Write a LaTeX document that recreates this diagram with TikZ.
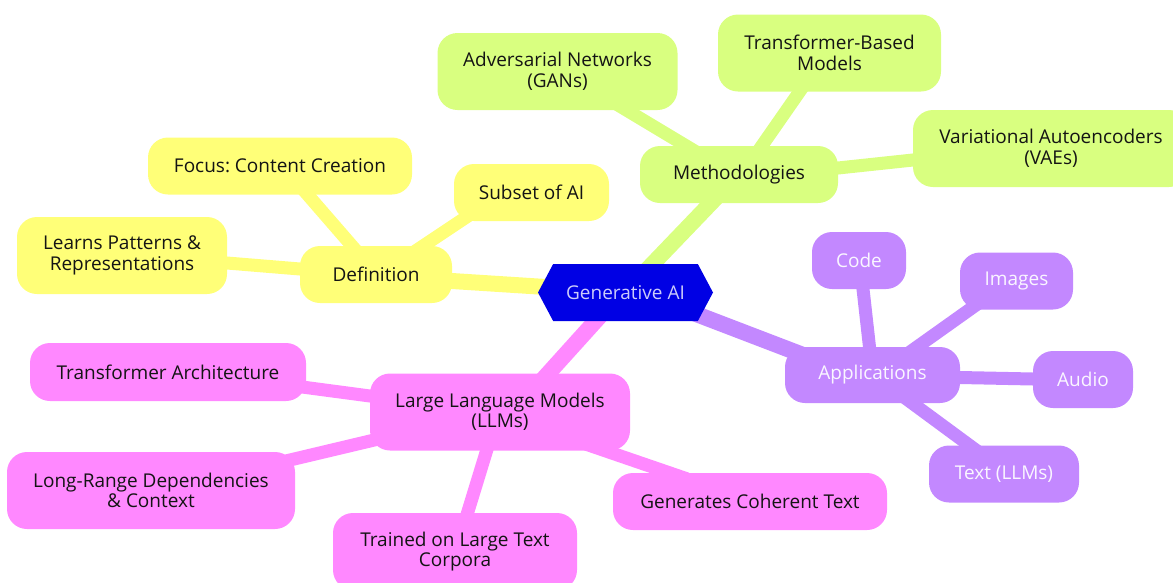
\documentclass[tikz,border=0pt]{standalone}
\usepackage{fontspec}
\setmainfont{Open Sans}
\usetikzlibrary{shapes.symbols,calc,backgrounds}
\definecolor{rootblue}{HTML}{0000E4}
\definecolor{defyel}{HTML}{FFFF78}
\definecolor{methgrn}{HTML}{D9FF80}
\definecolor{apppur}{HTML}{C388FF}
\definecolor{llmpink}{HTML}{FF88FF}
\frenchspacing

\begin{document}
\begin{tikzpicture}
[x=1pt,y=-1pt,
box/.style = {rounded corners=20pt, align=center, inner sep=0pt, minimum height=57pt, font=\fontsize{19}{20.5}\selectfont, text=black!92},
tall/.style = {minimum height=77pt},
yel/.style = {box, fill=defyel},
grn/.style = {box, fill=methgrn},
pur/.style = {box, fill=apppur, text=white!92!apppur},
pnk/.style = {box, fill=llmpink},
trunk/.style = {line width=16pt, shorten <=-25pt, shorten >=-25pt},
twig/.style = {line width=13pt, shorten <=-18pt, shorten >=-18pt},]

\useasboundingbox (0,0) rectangle (1173,582);

\node (genai) at (625.5,292.5)[signal, signal to=east and west, signal pointer angle=124, fill=rootblue, minimum width=175pt, minimum height=57pt, inner sep=0pt, font=\fontsize{19}{20.5}\selectfont, text=white!80!rootblue] {Generative AI};

% definition branch
\node (defn) at (376,274.5)[yel, minimum width=152pt] {Definition};
\node (focus) at (280,166)[yel, minimum width=264pt] {Focus: Content Creation};
\node (subset) at (531.5,192.5)[yel, minimum width=155pt] {Subset of AI};
\node (learns) at (122,255.5)[yel, tall, minimum width=210pt] {Learns Patterns \&\\Representations};

% methodologies branch
\node (meth) at (739,174.5)[grn, minimum width=198pt] {Methodologies};
\node (gans) at (557.5,71.5)[grn, tall, minimum width=240pt] {Adversarial Networks\\(GANs)};
\node (tbm) at (829.5,53)[grn, tall, minimum width=223pt] {Transformer-Based\\Models};
\node (vaes) at (1051,148.5)[grn, tall, minimum width=276pt] {Variational Autoencoders\\(VAEs)};

% applications branch
\node (apps) at (872.5,375)[pur, minimum width=175pt, minimum height=56pt] {Applications};
\node (code) at (859,260.5)[pur, minimum width=94pt] {Code};
\node (images) at (1016.5,281)[pur, minimum width=113pt] {Images};
\node (audio) at (1083,379.5)[pur, minimum width=100pt] {Audio};
\node (textllm) at (1004,474)[pur, minimum width=150pt] {Text (LLMs)};

% llm branch
\node (llm) at (500,412)[pnk, tall, minimum width=260pt] {Large Language Models\\(LLMs)};
\node (tarch) at (168,372)[pnk, minimum width=276pt, minimum height=58pt] {Transformer Architecture};
\node (longrange) at (151,490.5)[pnk, tall, minimum width=288pt] {Long-Range Dependencies\\\& Context};
\node (trained) at (455,551.5)[pnk, tall, minimum width=244pt] {Trained on Large Text\\Corpora};
\node (coherent) at (750,501.5)[pnk, minimum width=274pt] {Generates Coherent Text};

\begin{scope}[on background layer]
\draw[trunk,defyel] ($(genai)+(-87.5,-6)$) -- ($(defn)+(76,6.5)$);
\draw[trunk,methgrn] ($(genai)+(26.5,-28)$) -- ($(meth)+(-28,28.5)$);
\draw[trunk,apppur] ($(genai)+(74.5,23)$) -- ($(apps)+(-85,-26)$);
\draw[trunk,llmpink] ($(genai)+(-29.5,28)$) -- ($(llm)+(48.6,-39)$);

\draw[twig,defyel] ($(defn)+(-23,-27.5)$) -- ($(focus)+(27,28)$);
\draw[twig,defyel] ($(defn)+(41,-24.5)$) -- ($(subset)+(-66.5,25.5)$);
\draw[twig,defyel] ($(defn)+(-76,-5.5)$) -- ($(learns)+(105,7.5)$);

\draw[twig,methgrn] ($(meth)+(-51,-27.5)$) -- ($(gans)+(70.5,39.5)$);
\draw[twig,methgrn] ($(meth)+(22,-27.5)$) -- ($(tbm)+(-29.5,38)$);
\draw[twig,methgrn] ($(meth)+(99,-6.5)$) -- ($(vaes)+(-138,11.5)$);

\draw[twig,apppur] ($(apps)+(-3,-28)$) -- ($(code)+(4,28.5)$);
\draw[twig,apppur] ($(apps)+(44.5,-28)$) -- ($(images)+(-40.5,24)$);
\draw[twig,apppur] ($(apps)+(87.5,2.5)$) -- ($(audio)+(-50,-0.5)$);
\draw[twig,apppur] ($(apps)+(39.5,28)$) -- ($(textllm)+(-35,-29)$);

\draw[twig,llmpink] ($(llm)+(-130,-16)$) -- ($(tarch)+(138,15.5)$);
\draw[twig,llmpink] ($(llm)+(-130,29)$) -- ($(longrange)+(139,-30.5)$);
\draw[twig,llmpink] ($(llm)+(-13.5,39)$) -- ($(trained)+(12.5,-38.5)$);
\draw[twig,llmpink] ($(llm)+(103,38)$) -- ($(coherent)+(-80,-28.5)$);
\end{scope}

\end{tikzpicture}
\end{document}
